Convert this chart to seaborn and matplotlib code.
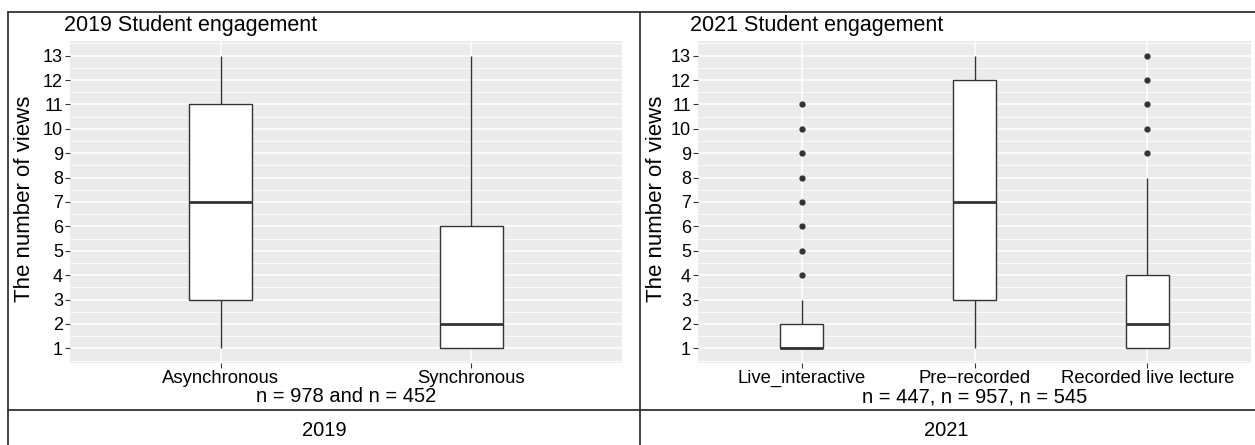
import numpy as np
import pandas as pd
import matplotlib
matplotlib.use("Agg")
import matplotlib.pyplot as plt
from matplotlib.lines import Line2D
from matplotlib.ticker import FixedLocator
import seaborn as sns

# ---------------- data (representative samples reproducing the box statistics) ----------------
cats_2019 = ["Asynchronous", "Synchronous"]
views_asynchronous = [1, 3, 3, 7, 11, 11, 13]
views_synchronous = [1, 1, 1, 2, 2, 6, 6, 10, 13]

cats_2021 = ["Live_interactive", "Pre\u2212recorded", "Recorded live lecture"]
views_live = [1] * 20 + [2] * 8 + [3] + [4, 5, 6, 7, 8, 9, 10, 11]
views_prerecorded = [1, 3, 3, 7, 12, 12, 13]
views_recorded = [1] * 11 + [2] * 12 + [3] * 6 + [4] * 3 + [5, 6, 7, 8] + [9, 10, 11, 12, 13]

y_ticks = list(range(1, 14))
title_2019 = "2019 Student engagement"
title_2021 = "2021 Student engagement"
xlab_2019 = "n = 978 and n = 452"
xlab_2021 = "n = 447, n = 957, n = 545"
ylab = "The number of views"
row_labels = ["2019", "2021"]

df19 = pd.DataFrame({
    "group": [cats_2019[0]] * len(views_asynchronous) + [cats_2019[1]] * len(views_synchronous),
    "views": views_asynchronous + views_synchronous,
})
df21 = pd.DataFrame({
    "group": [cats_2021[0]] * len(views_live) + [cats_2021[1]] * len(views_prerecorded)
             + [cats_2021[2]] * len(views_recorded),
    "views": views_live + views_prerecorded + views_recorded,
})

# ---------------- style ----------------
sns.set_theme(style="darkgrid")
plt.rcParams["font.family"] = ["Liberation Sans", "DejaVu Sans"]

W, H = 1255, 445
fig = plt.figure(figsize=(W / 100, H / 100), dpi=100)
fig.patch.set_facecolor("white")

def fx(px):
    return px / W

def fy(py):
    return 1 - py / H

ax1 = fig.add_axes([fx(70), fy(363), fx(622 - 70), (363 - 41) / H])
ax2 = fig.add_axes([fx(698), fy(363), fx(1251 - 698), (363 - 41) / H])

line_c = "#333333"
for ax, df, cats in [(ax1, df19, cats_2019), (ax2, df21, cats_2021)]:
    ax.set_facecolor("#EBEBEB")
    sns.boxplot(data=df, x="group", y="views", order=cats, ax=ax, width=0.25,
                color="white", linecolor=line_c, linewidth=1.0, fliersize=3.5,
                showcaps=False, whis=1.5,
                flierprops=dict(marker="o", markerfacecolor=line_c, markeredgecolor=line_c),
                medianprops=dict(linewidth=2.0, color=line_c),
                boxprops=dict(facecolor="white", edgecolor=line_c),
                saturation=1)
    ax.set_xlim(-0.6, len(cats) - 0.4)
    ax.set_ylim(0.4, 13.6)
    ax.set_yticks(y_ticks)
    ax.set_yticklabels([str(t) for t in y_ticks])
    ax.yaxis.set_minor_locator(FixedLocator([t + 0.5 for t in range(0, 14)]))
    ax.grid(which="major", color="white", linewidth=1.1)
    ax.grid(which="minor", axis="y", color="white", linewidth=0.55)
    ax.set_axisbelow(True)
    ax.set_xlabel("")
    ax.set_ylabel("")
    for s in ax.spines.values():
        s.set_visible(False)
    ax.tick_params(axis="both", which="major", length=3.5, width=0.8, color=line_c,
                   labelcolor="black", labelsize=13, pad=1.5, bottom=True, left=True)
    ax.tick_params(axis="y", which="minor", length=0)
    ax.tick_params(axis="x", labelsize=13.3)

# titles and axis labels
fig.text(fx(64), fy(25), title_2019, fontsize=15.5, ha="left", va="center", color="black")
fig.text(fx(690), fy(25), title_2021, fontsize=15.5, ha="left", va="center", color="black")
fig.text(fx(25), fy(199), ylab, fontsize=16, rotation=90, ha="center", va="center", color="black")
fig.text(fx(657), fy(199), ylab, fontsize=16, rotation=90, ha="center", va="center", color="black")
fig.text(fx(346), fy(397), xlab_2019, fontsize=14.5, ha="center", va="center", color="black")
fig.text(fx(974.5), fy(397), xlab_2021, fontsize=14.5, ha="center", va="center", color="black")
fig.text(fx(324), fy(431), row_labels[0], fontsize=14.5, ha="center", va="center", color="black")
fig.text(fx(946), fy(431), row_labels[1], fontsize=14.5, ha="center", va="center", color="black")

# table borders
bc = "#222222"
blw = 1.2
fig.add_artist(Line2D([fx(8), 1.0], [fy(12), fy(12)], color=bc, lw=blw))
fig.add_artist(Line2D([fx(8), fx(8)], [fy(12), 0.0], color=bc, lw=blw))
fig.add_artist(Line2D([fx(640), fx(640)], [fy(12), 0.0], color=bc, lw=blw))
fig.add_artist(Line2D([fx(8), 1.0], [fy(410), fy(410)], color=bc, lw=blw))

fig.savefig("out.png", dpi=100, facecolor="white")
